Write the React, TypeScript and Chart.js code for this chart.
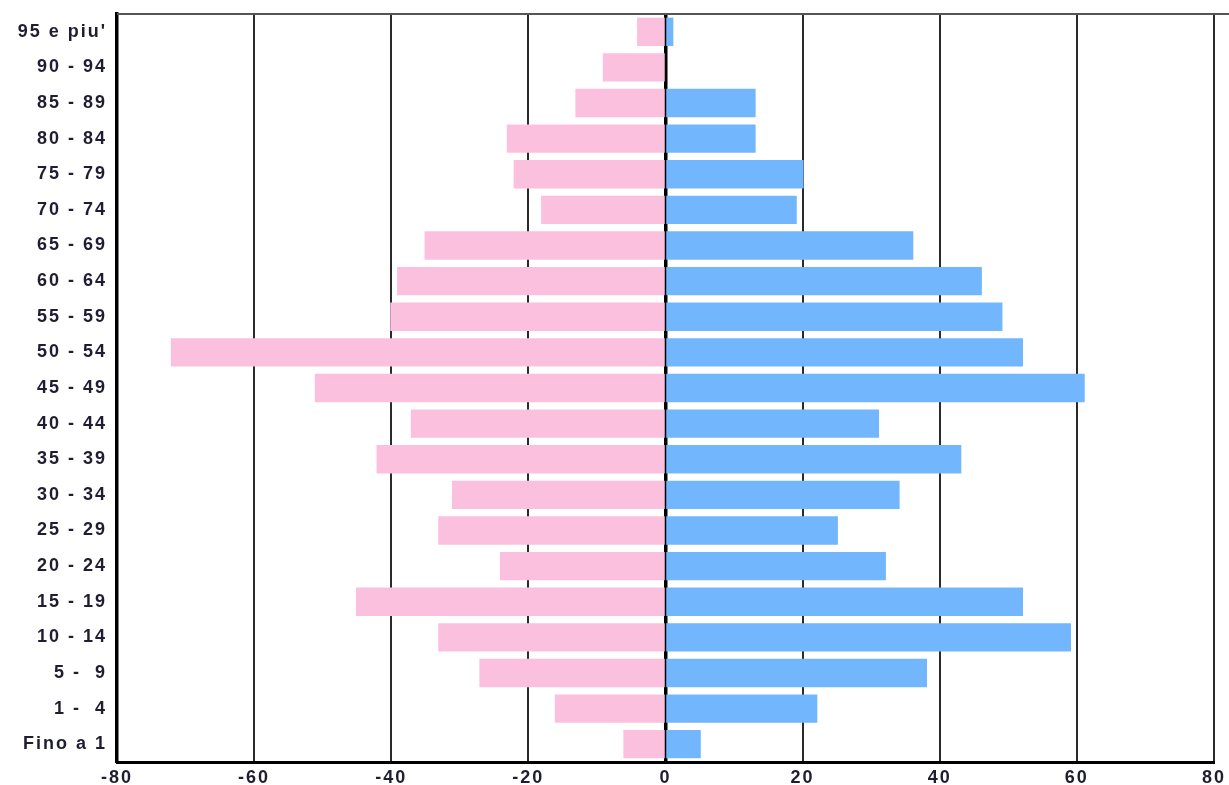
import React, { useEffect, useRef } from "react";
import { Chart, registerables } from "chart.js";

Chart.register(...registerables);

const categories = [
  "95 e piu'", "90 - 94", "85 - 89", "80 - 84", "75 - 79", "70 - 74", "65 - 69",
  "60 - 64", "55 - 59", "50 - 54", "45 - 49", "40 - 44", "35 - 39", "30 - 34",
  "25 - 29", "20 - 24", "15 - 19", "10 - 14", "5 -  9", "1 -  4", "Fino a 1",
];

const femaleValues = [-4, -9, -13, -23, -22, -18, -35, -39, -40, -72, -51, -37, -42, -31, -33, -24, -45, -33, -27, -16, -6];
const maleValues = [1, 0, 13, 13, 20, 19, 36, 46, 49, 52, 61, 31, 43, 34, 25, 32, 52, 59, 38, 22, 5];

const xMin = -80;
const xMax = 80;
const xStep = 20;

const PINK = "#fcc0df";
const BLUE = "#72b7fd";
const TEXT = "#1e1e30";
const FONT = { family: "'Liberation Sans', Arial, sans-serif", size: 18, weight: "bold" };

const letterSpacingPlugin = {
  id: "letterSpacing",
  beforeDraw(chart: any) {
    (chart.ctx as any).letterSpacing = "2px";
  },
  afterDraw(chart: any) {
    (chart.ctx as any).letterSpacing = "0px";
  },
};

const topBorderPlugin = {
  id: "topBorder",
  afterDatasetsDraw(chart: any) {
    const { ctx, chartArea, width } = chart;
    ctx.save();
    ctx.strokeStyle = "#555";
    ctx.lineWidth = 2;
    ctx.beginPath();
    ctx.moveTo(chartArea.left, chartArea.top);
    ctx.lineTo(width, chartArea.top);
    ctx.stroke();
    ctx.restore();
  },
};

const inflate = (c: any) => (c.raw === 0 ? 0 : 1);

export default function App() {
  const ref = useRef<HTMLCanvasElement | null>(null);

  useEffect(() => {
    if (!ref.current) return;
    const chart = new Chart(ref.current, {
      type: "bar",
      data: {
        labels: categories,
        datasets: [
          {
            label: "Femmine",
            data: femaleValues,
            backgroundColor: PINK,
            borderWidth: 0,
            inflateAmount: inflate,
            barPercentage: 0.74,
            categoryPercentage: 1.0,
          },
          {
            label: "Maschi",
            data: maleValues,
            backgroundColor: BLUE,
            borderWidth: 0,
            inflateAmount: inflate,
            barPercentage: 0.74,
            categoryPercentage: 1.0,
          },
        ],
      },
      options: {
        indexAxis: "y",
        responsive: false,
        animation: false,
        devicePixelRatio: 1,
        layout: { padding: { left: 0, top: 14, right: 15, bottom: 0 } },
        plugins: {
          legend: { display: false },
          title: { display: false },
          tooltip: { enabled: false },
        },
        scales: {
          x: {
            type: "linear",
            stacked: true,
            min: xMin,
            max: xMax,
            ticks: {
              stepSize: xStep,
              color: TEXT,
              padding: 5,
              font: FONT,
            },
            grid: {
              drawTicks: false,
              tickLength: 0,
              color: (c: any) => (c.tick && c.tick.value === 0 ? "#000" : "#2a2a2a"),
              lineWidth: (c: any) => (c.tick && c.tick.value === 0 ? 3.5 : 2),
            },
            border: { display: true, color: "#000", width: 3 },
            afterFit: (scale: any) => {
              scale.height = 23;
            },
          },
          y: {
            stacked: true,
            ticks: {
              color: TEXT,
              padding: 10,
              font: FONT,
            },
            grid: { display: false, drawTicks: false },
            border: { display: true, color: "#000", width: 3.5 },
            afterFit: (scale: any) => {
              scale.width = 117;
              scale.paddingTop = 0;
              scale.paddingBottom = 0;
            },
          },
        },
      },
      plugins: [letterSpacingPlugin, topBorderPlugin],
    } as any);
    return () => chart.destroy();
  }, []);

  return (
    <div style={{ position: "absolute", left: 0, top: 0, width: 1229, height: 785, background: "#fff" }}>
      <canvas ref={ref} width={1229} height={785} style={{ display: "block" }} />
    </div>
  );
}
